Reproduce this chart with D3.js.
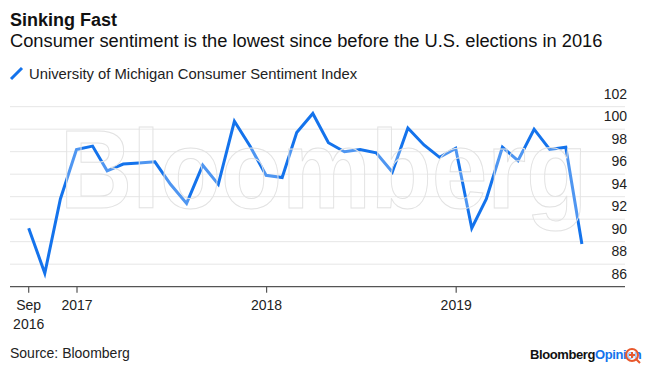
<!DOCTYPE html>
<html>
<head>
<meta charset="utf-8">
<script src="https://cdn.jsdelivr.net/npm/d3@7"></script>
<style>
	body { margin: 0; background: #fff; }
	svg { display: block; font-family: "Liberation Sans", Arial, sans-serif; }
</style>
</head>
<body>
<div id="mainWrapper"></div>
<script>

	//データ（月末値）
	var months = [
		"2016-09","2016-10","2016-11","2016-12",
		"2017-01","2017-02","2017-03","2017-04","2017-05","2017-06",
		"2017-07","2017-08","2017-09","2017-10","2017-11","2017-12",
		"2018-01","2018-02","2018-03","2018-04","2018-05","2018-06",
		"2018-07","2018-08","2018-09","2018-10","2018-11","2018-12",
		"2019-01","2019-02","2019-03","2019-04","2019-05","2019-06",
		"2019-07","2019-08"
	];
	var sentiment = [
		91.2, 87.2, 93.8, 98.2,
		98.5, 96.3, 96.9, 97.0, 97.1, 95.1,
		93.4, 96.8, 95.1, 100.7, 98.5, 95.9,
		95.7, 99.7, 101.4, 98.8, 98.0, 98.2,
		97.9, 96.2, 100.1, 98.6, 97.5, 98.3,
		91.2, 93.8, 98.4, 97.2, 100.0, 98.2,
		98.4, 89.8
	];
	var yTicks = [86, 88, 90, 92, 94, 96, 98, 100, 102];
	var xTickDates = ["2016-09", "2017-01", "2018-01", "2019-01"];
	var xTickLabels = [["Sep", "2016"], ["2017"], ["2018"], ["2019"]];

	var W = 650, H = 379;
	var blue = "#1473ec";

	var svg = d3.select("#mainWrapper").append("svg")
		.attr("width", W)
		.attr("height", H);

	//月末の日付にする
	function monthEnd(s){
		var p = s.split("-");
		return new Date(+p[0], +p[1], 0);
	}
	function monthStart(s){
		var p = s.split("-");
		return new Date(+p[0], +p[1] - 1, 1);
	}

	var data = months.map(function(m, i){
		return { date: monthEnd(m), value: sentiment[i] };
	});

	var x = d3.scaleTime()
		.domain([new Date(2016, 7, 25), new Date(2019, 10, 22)])
		.range([10, 625]);

	var y = d3.scaleLinear()
		.domain([86, 102])
		.range([286.7, 106.7]);

	//タイトル
	svg.append("text")
		.attr("x", 10).attr("y", 26)
		.attr("font-size", "18px")
		.attr("font-weight", "bold")
		.attr("fill", "#111")
		.text("Sinking Fast");

	svg.append("text")
		.attr("x", 10).attr("y", 47)
		.attr("font-size", "18.3px")
		.attr("fill", "#111")
		.text("Consumer sentiment is the lowest since before the U.S. elections in 2016");

	//凡例
	svg.append("line")
		.attr("x1", 11).attr("y1", 79)
		.attr("x2", 22).attr("y2", 68)
		.attr("stroke", blue)
		.attr("stroke-width", 3);

	svg.append("text")
		.attr("x", 29).attr("y", 79)
		.attr("font-size", "14.8px")
		.attr("fill", "#222")
		.text("University of Michigan Consumer Sentiment Index");

	//グリッド
	var grid = svg.append("g");
	grid.selectAll("line")
		.data(yTicks.filter(function(d){ return d > 86; }))
		.enter()
		.append("line")
		.attr("x1", 10).attr("x2", 625)
		.attr("y1", function(d){ return y(d); })
		.attr("y2", function(d){ return y(d); })
		.attr("stroke", "#e6e6e6")
		.attr("stroke-width", 1);

	grid.selectAll("text")
		.data(yTicks)
		.enter()
		.append("text")
		.attr("x", 627)
		.attr("y", function(d){ return y(d) - 8; })
		.attr("text-anchor", "end")
		.attr("font-size", "14px")
		.attr("fill", "#222")
		.text(function(d){ return d; });

	//X軸
	var xAxis = svg.append("g");
	xAxis.append("line")
		.attr("x1", 10).attr("x2", 625)
		.attr("y1", y(86)).attr("y2", y(86))
		.attr("stroke", "#555")
		.attr("stroke-width", 1.2);

	var tickPos = xTickDates.map(function(s, i){
		return i == 0 ? monthEnd(s) : monthStart(s);
	});

	xAxis.selectAll(".tick")
		.data(tickPos)
		.enter()
		.append("line")
		.attr("class", "tick")
		.attr("x1", function(d){ return x(d); })
		.attr("x2", function(d){ return x(d); })
		.attr("y1", y(86)).attr("y2", y(86) + 6)
		.attr("stroke", "#555")
		.attr("stroke-width", 1.2);

	tickPos.forEach(function(d, i){
		xTickLabels[i].forEach(function(t, j){
			xAxis.append("text")
				.attr("x", x(d))
				.attr("y", 310 + j * 19)
				.attr("text-anchor", "middle")
				.attr("font-size", "14px")
				.attr("fill", "#222")
				.text(t);
		});
	});

	//折れ線
	var line = d3.line()
		.x(function(d){ return x(d.date); })
		.y(function(d){ return y(d.value); });

	svg.append("path")
		.datum(data)
		.attr("d", line)
		.attr("fill", "none")
		.attr("stroke", blue)
		.attr("stroke-width", 3)
		.attr("stroke-linejoin", "miter");

	//透かし（横方向に詰める）
	svg.append("text")
		.attr("transform", "translate(60,208) scale(0.892,1)")
		.attr("font-size", "112px")
		.attr("font-weight", "bold")
		.attr("fill", "#fff")
		.attr("fill-opacity", 0.25)
		.attr("stroke", "#e2e2e2")
		.attr("stroke-width", 1)
		.text("Bloomberg");

	//出典
	svg.append("text")
		.attr("x", 10).attr("y", 358)
		.attr("font-size", "14px")
		.attr("fill", "#222")
		.text("Source: Bloomberg");

	var logo = svg.append("text")
		.attr("x", 530).attr("y", 359)
		.attr("font-size", "13px")
		.attr("font-weight", "bold")
		.attr("letter-spacing", "-0.4px");
	logo.append("tspan").attr("fill", "#111").text("Bloomberg");
	logo.append("tspan").attr("fill", blue).text("Opinion");

	//拡大アイコン
	var icon = svg.append("g").attr("transform", "translate(632,355)");
	icon.append("circle")
		.attr("r", 6)
		.attr("fill", "#fff")
		.attr("fill-opacity", 0.6)
		.attr("stroke", "#e8582c")
		.attr("stroke-width", 2);
	icon.append("path")
		.attr("d", "M-3,0H3M0,-3V3M4.5,4.5L8,8")
		.attr("stroke", "#e8582c")
		.attr("stroke-width", 2);

</script>
</body>
</html>
